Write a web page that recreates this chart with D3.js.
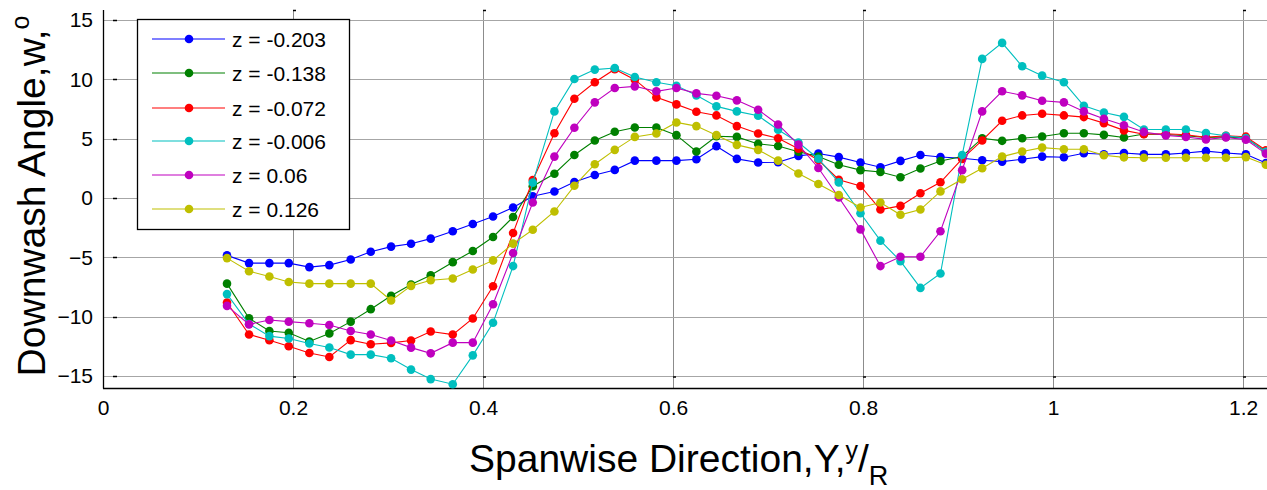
<!DOCTYPE html>
<html>
<head>
<meta charset="utf-8">
<script src="https://cdn.jsdelivr.net/npm/d3@7"></script>
<style>
  body { margin: 0; background: #fff; }
  svg text { font-family: "Liberation Sans", Arial, sans-serif; fill: #000; }
</style>
</head>
<body>
<div id="chart"></div>
<script>
// spanwise stations y/R
var yOverR = [0.1305, 0.1537, 0.1751, 0.1955, 0.2172, 0.2382, 0.2607, 0.2818, 0.3032, 0.3242,
    0.3449, 0.3681, 0.3892, 0.4105, 0.4316, 0.4523, 0.4751, 0.4961, 0.5176, 0.5386,
    0.5597, 0.5824, 0.6035, 0.6245, 0.6456, 0.6671, 0.6895, 0.7105, 0.7319, 0.7529,
    0.7744, 0.7972, 0.8182, 0.8393, 0.8603, 0.8814, 0.9042, 0.9253, 0.9463, 0.9674,
    0.9884, 1.0113, 1.0323, 1.0534, 1.0745, 1.0955, 1.1186, 1.1397, 1.1608, 1.1818,
    1.2028, 1.2239];

var zNeg203 = [-4.83, -5.48, -5.48, -5.48, -5.82, -5.65, -5.17, -4.52, -4.09, -3.85,
    -3.42, -2.8, -2.18, -1.55, -0.79, 0.15, 0.55, 1.35, 1.94, 2.37,
    3.15, 3.15, 3.15, 3.27, 4.37, 3.3, 2.99, 3.01, 3.55, 3.75,
    3.45, 3.0, 2.6, 3.13, 3.62, 3.46, 3.35, 3.18, 3.07, 3.27,
    3.49, 3.44, 3.77, 3.69, 3.8, 3.68, 3.68, 3.8, 3.95, 3.8,
    3.68, 2.95];
var zNeg138 = [-7.21, -10.13, -11.2, -11.35, -12.08, -11.4, -10.41, -9.36, -8.23, -7.29,
    -6.5, -5.4, -4.46, -3.28, -1.6, 1.0, 2.05, 3.63, 4.85, 5.58,
    5.94, 5.94, 5.3, 3.92, 5.21, 5.15, 4.56, 4.39, 3.9, 3.5,
    2.8, 2.35, 2.2, 1.75, 2.49, 3.12, 3.5, 5.04, 4.82, 5.04,
    5.18, 5.46, 5.46, 5.32, 5.1, 5.4, 5.35, 5.25, 5.1, 5.15,
    5.05, 3.9];
var zNeg072 = [-8.8, -11.49, -11.97, -12.48, -13.05, -13.39, -11.97, -12.31, -12.2, -12.0,
    -11.24, -11.5, -10.14, -7.43, -2.95, 1.52, 5.46, 8.37, 9.75, 10.85,
    9.97, 8.48, 7.89, 7.27, 6.96, 6.06, 5.44, 5.04, 4.15, 3.2,
    1.54, 1.02, -0.97, -0.66, 0.4, 1.33, 3.3, 4.85, 6.51, 6.96,
    7.1, 6.96, 6.82, 6.31, 5.7, 5.38, 5.42, 5.33, 5.12, 5.25,
    5.17, 4.02];
var zNeg006 = [-8.09, -10.61, -11.63, -11.83, -12.25, -12.59, -13.19, -13.19, -13.5, -14.45,
    -15.25, -15.68, -13.25, -10.51, -5.73, 1.3, 7.3, 10.03, 10.82, 10.96,
    10.2, 9.75, 9.46, 8.65, 7.72, 7.3, 6.93, 5.75, 4.68, 3.31,
    1.32, -1.28, -3.59, -5.31, -7.57, -6.36, 3.62, 11.72, 13.07, 11.1,
    10.31, 9.75, 7.77, 7.21, 6.84, 5.78, 5.78, 5.78, 5.48, 5.25,
    5.05, 3.9];
var zPos060 = [-9.08, -10.64, -10.27, -10.41, -10.55, -10.69, -11.2, -11.49, -12.0, -12.6,
    -13.08, -12.18, -12.18, -8.95, -4.63, -0.37, 3.49, 5.92, 8.06, 9.27,
    9.41, 8.99, 9.27, 8.82, 8.62, 8.23, 7.44, 6.2, 4.5, 2.53,
    0.05, -2.64, -5.73, -4.94, -4.94, -2.8, 2.35, 7.3, 8.99, 8.65,
    8.2, 8.06, 7.3, 6.68, 6.13, 5.57, 5.28, 5.14, 4.94, 5.1,
    4.92, 3.74];
var zPos126 = [-5.06, -6.16, -6.61, -7.07, -7.21, -7.21, -7.21, -7.21, -8.63, -7.4,
    -6.92, -6.78, -6.02, -5.25, -3.84, -2.67, -1.13, 1.03, 2.85, 4.06,
    5.15, 5.44, 6.37, 6.06, 5.3, 4.48, 4.06, 3.15, 2.07, 1.18,
    0.26, -0.79, -0.38, -1.41, -0.97, 0.56, 1.58, 2.51, 3.49, 3.92,
    4.25, 4.11, 4.11, 3.61, 3.43, 3.4, 3.4, 3.4, 3.4, 3.4,
    3.45, 2.8];

var seriesNames = ["z = -0.203", "z = -0.138", "z = -0.072", "z = -0.006", "z = 0.06", "z = 0.126"];
var seriesValues = [zNeg203, zNeg138, zNeg072, zNeg006, zPos060, zPos126];
var seriesColors = ["#0000ff", "#008000", "#ff0000", "#00bfbf", "#bf00bf", "#bfbf00"];

var xTicks = [0, 0.2, 0.4, 0.6, 0.8, 1, 1.2];
var yTicks = [-15, -10, -5, 0, 5, 10, 15];

var width = 1267,
    height = 490;

var x = d3.scaleLinear().domain([0, 1.224]).range([103, 1266]);
var y = d3.scaleLinear().domain([-16, 15.84]).range([388, 10]);

var svg = d3.select("#chart").append("svg")
    .attr("width", width)
    .attr("height", height);

// grid
svg.append("g").selectAll("line")
    .data(xTicks.filter(function (d) { return d > 0; }))
    .enter().append("line")
    .attr("x1", function (d) { return Math.round(x(d)) + 0.5; })
    .attr("x2", function (d) { return Math.round(x(d)) + 0.5; })
    .attr("y1", 10).attr("y2", 388)
    .style("stroke", "#8c8c8c").style("stroke-width", 1);

svg.append("g").selectAll("line")
    .data(yTicks)
    .enter().append("line")
    .attr("x1", 103).attr("x2", 1267)
    .attr("y1", function (d) { return Math.round(y(d)) + 0.5; })
    .attr("y2", function (d) { return Math.round(y(d)) + 0.5; })
    .style("stroke", "#a6a6a6").style("stroke-width", 1);

// axis lines
svg.append("line").attr("x1", 103.5).attr("x2", 103.5).attr("y1", 10).attr("y2", 388.5)
    .style("stroke", "#000").style("stroke-width", 1.3);
svg.append("line").attr("x1", 103).attr("x2", 1267).attr("y1", 388.5).attr("y2", 388.5)
    .style("stroke", "#000").style("stroke-width", 1.3);

// small tick marks (inside)
svg.append("g").selectAll("line")
    .data(yTicks)
    .enter().append("line")
    .attr("x1", 113).attr("x2", 117)
    .attr("y1", function (d) { return Math.round(y(d)) + 0.5; })
    .attr("y2", function (d) { return Math.round(y(d)) + 0.5; })
    .style("stroke", "#000").style("stroke-width", 1.5);
svg.append("g").selectAll("line")
    .data(xTicks.filter(function (d) { return d > 0; }))
    .enter().append("line")
    .attr("x1", function (d) { return Math.round(x(d)); })
    .attr("x2", function (d) { return Math.round(x(d)) + 3; })
    .attr("y1", 10.5).attr("y2", 10.5)
    .style("stroke", "#000").style("stroke-width", 1.5);
svg.append("g").selectAll("line")
    .data(xTicks.filter(function (d) { return d > 0; }))
    .enter().append("line")
    .attr("x1", function (d) { return Math.round(x(d)); })
    .attr("x2", function (d) { return Math.round(x(d)) + 3; })
    .attr("y1", 377).attr("y2", 377)
    .style("stroke", "#000").style("stroke-width", 1.5);

// tick labels via d3 axes
var yAxis = d3.axisLeft(y).tickValues(yTicks).tickSize(0).tickPadding(10);
var gy = svg.append("g").attr("transform", "translate(103,0)").call(yAxis);
gy.select(".domain").remove();
gy.selectAll("text").style("font-size", "21px").style("font-family", "Liberation Sans, Arial, sans-serif");

var xAxis = d3.axisBottom(x).tickValues(xTicks).tickSize(0).tickPadding(12)
    .tickFormat(function (d) { return d3.format("")(d); });
var gx = svg.append("g").attr("transform", "translate(0,388)").call(xAxis);
gx.select(".domain").remove();
gx.selectAll("text").style("font-size", "21px").style("font-family", "Liberation Sans, Arial, sans-serif");

// series
var line = d3.line()
    .x(function (d) { return x(d[0]); })
    .y(function (d) { return y(d[1]); });

seriesValues.forEach(function (vals, i) {
    var pts = yOverR.map(function (xv, j) { return [xv, vals[j]]; });
    var g = svg.append("g");
    g.append("path")
        .datum(pts)
        .attr("d", line)
        .style("fill", "none")
        .style("stroke", seriesColors[i])
        .style("stroke-width", 1.1);
    g.selectAll("circle")
        .data(pts)
        .enter().append("circle")
        .attr("cx", function (d) { return x(d[0]); })
        .attr("cy", function (d) { return y(d[1]); })
        .attr("r", 4.3)
        .style("fill", seriesColors[i]);
});

// legend
var legend = svg.append("g");
legend.append("rect")
    .attr("x", 137.5).attr("y", 19.5)
    .attr("width", 212).attr("height", 210)
    .style("fill", "#fff").style("stroke", "#000").style("stroke-width", 1.3);

var legendY = [39, 73, 108, 141, 175, 209];
seriesNames.forEach(function (name, i) {
    var ly = legendY[i];
    legend.append("line")
        .attr("x1", 152).attr("x2", 225)
        .attr("y1", ly).attr("y2", ly)
        .style("stroke", seriesColors[i]).style("stroke-width", 1.1);
    legend.append("circle")
        .attr("cx", 189).attr("cy", ly).attr("r", 4.3)
        .style("fill", seriesColors[i]);
    legend.append("text")
        .attr("x", 232).attr("y", ly + 8)
        .style("font-size", "21px")
        .text(name);
});

// axis titles
var xt = svg.append("text")
    .attr("x", 469).attr("y", 472)
    .style("font-size", "39px");
xt.append("tspan").text("Spanwise Direction,Y,");
xt.append("tspan").attr("dy", -13).style("font-size", "25px").text("y");
xt.append("tspan").attr("dy", 13).style("font-size", "39px").text("/");
xt.append("tspan").attr("dy", 13).style("font-size", "27px").text("R");

var yt = svg.append("text")
    .attr("transform", "translate(45,196) rotate(-90)")
    .attr("text-anchor", "middle")
    .style("font-size", "39px");
yt.append("tspan").text("Downwash Angle,w,");
yt.append("tspan").attr("dy", -16).style("font-size", "25px").text("o");
</script>
</body>
</html>
